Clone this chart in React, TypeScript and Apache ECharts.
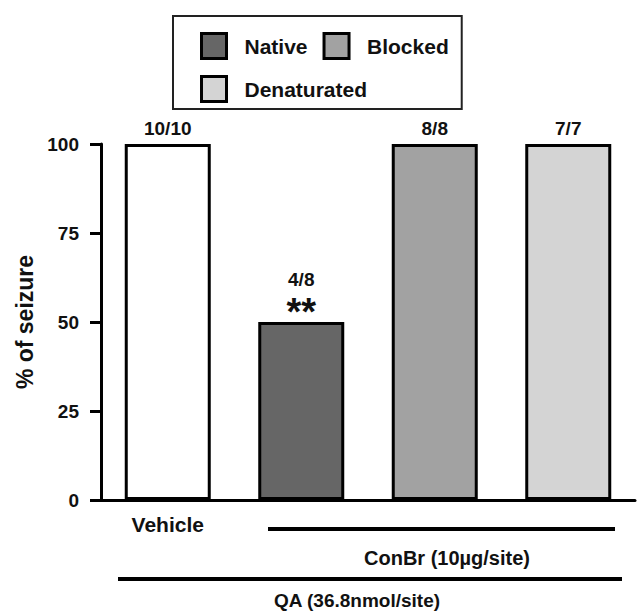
import React, { useEffect, useRef } from "react";
import * as echarts from "echarts";

const categories = ["Vehicle", "Native", "Blocked", "Denaturated"];
const seizurePct = [100, 50, 100, 100];
const ratioLabels = ["10/10", "4/8", "8/8", "7/7"];
const significance = ["", "**", "", ""];
const barColors = ["#ffffff", "#666666", "#a2a2a2", "#d4d4d4"];
const legendNames = ["Native", "Blocked", "Denaturated"];
const yTicks = { min: 0, max: 100, interval: 25 };

const FONT = "'Liberation Sans', Arial, sans-serif";

export default function App() {
  const ref = useRef<HTMLDivElement>(null);
  useEffect(() => {
    if (!ref.current) return;
    const chart = echarts.init(ref.current, undefined, { renderer: "svg" });

    const series = categories.map((name, idx) => ({
      name,
      type: "bar",
      barWidth: 86,
      barGap: "-100%",
      data: categories.map((_, j) => {
        if (j !== idx) return "-";
        const sig = significance[j];
        return {
          value: seizurePct[j],
          label: {
            show: true,
            position: "top",
            distance: sig ? 0 : 6,
            offset: sig ? [0, 8] : [0, 0],
            formatter: sig ? `{a|${ratioLabels[j]}}\n{b|${sig}}` : ratioLabels[j],
            color: "#111",
            fontSize: 19,
            fontWeight: "bold",
            fontFamily: FONT,
            rich: {
              a: { fontSize: 19, fontWeight: "bold", fontFamily: FONT, color: "#111", lineHeight: 20, padding: [0, 0, 10, 0] },
              b: { fontSize: 38, fontWeight: "bold", fontFamily: FONT, color: "#111", lineHeight: 36 },
            },
          },
        };
      }),
      itemStyle: { color: barColors[idx], borderColor: "#000", borderWidth: 3 },
    }));

    chart.setOption({
      animation: false,
      backgroundColor: "#ffffff",
      textStyle: { fontFamily: FONT },
      legend: {
        data: legendNames,
        left: 173,
        top: 16,
        width: 270,
        padding: [16, 13, 6, 27],
        itemGap: 15,
        itemWidth: 25,
        itemHeight: 25,
        icon: "rect",
        borderColor: "#222",
        borderWidth: 2,
        itemStyle: { borderColor: "#000", borderWidth: 3 },
        textStyle: { fontSize: 21, fontWeight: "bold", color: "#111", fontFamily: FONT, padding: [0, 0, 0, 13] },
        selectedMode: false,
      },
      grid: { left: 101, right: 3, top: 144, bottom: 111 },
      xAxis: {
        type: "category",
        data: categories,
        axisLine: { lineStyle: { color: "#000", width: 3 } },
        axisTick: { show: false },
        axisLabel: {
          margin: 14,
          fontSize: 21,
          fontWeight: "bold",
          color: "#111",
          fontFamily: FONT,
          formatter: (v: string, i: number) => (i === 0 ? v : ""),
        },
      },
      yAxis: {
        type: "value",
        min: yTicks.min,
        max: yTicks.max,
        interval: yTicks.interval,
        name: "% of seizure",
        nameLocation: "middle",
        nameRotate: 90,
        nameGap: 64,
        nameTextStyle: { fontSize: 23, fontWeight: "bold", color: "#111", fontFamily: FONT },
        axisLine: { show: true, lineStyle: { color: "#000", width: 3 } },
        axisTick: { show: true, length: 11, lineStyle: { color: "#000", width: 3 } },
        axisLabel: { margin: 22, fontSize: 19, fontWeight: "bold", color: "#111", fontFamily: FONT },
        splitLine: { show: false },
      },
      graphic: [
        { type: "line", shape: { x1: 268, y1: 529, x2: 615, y2: 529 }, style: { stroke: "#000", lineWidth: 4 } },
        { type: "line", shape: { x1: 118, y1: 579, x2: 622, y2: 579 }, style: { stroke: "#000", lineWidth: 4 } },
        {
          type: "text",
          x: 447,
          y: 558,
          style: { text: "ConBr (10µg/site)", align: "center", verticalAlign: "middle", fontSize: 20, fontWeight: "bold", fontFamily: FONT, fill: "#111" },
        },
        {
          type: "text",
          x: 357,
          y: 600,
          style: { text: "QA (36.8nmol/site)", align: "center", verticalAlign: "middle", fontSize: 19, fontWeight: "bold", fontFamily: FONT, fill: "#111" },
        },
      ],
      series,
    });
    return () => chart.dispose();
  }, []);
  return <div ref={ref} style={{ position: "fixed", left: 0, top: 0, width: 638, height: 611 }} />;
}
